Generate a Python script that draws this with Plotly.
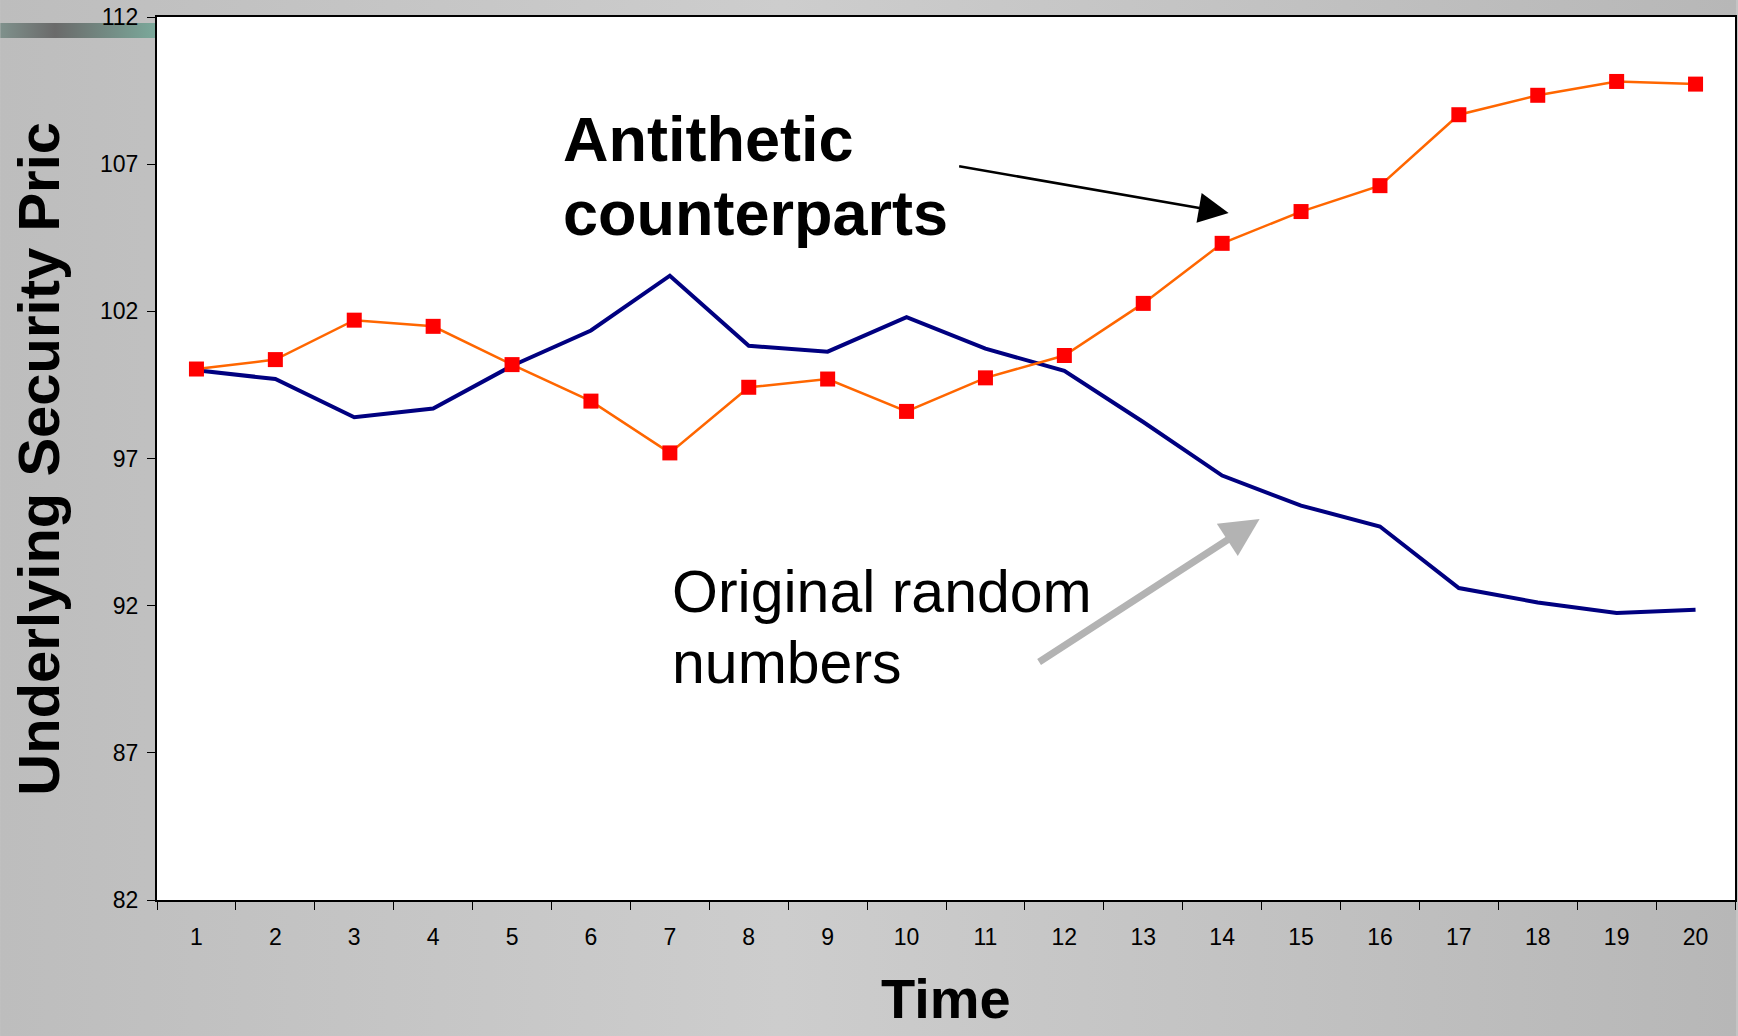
import base64
import plotly.graph_objects as go

# ---- data ----
time_steps = [str(i) for i in range(1, 21)]
original = [100.0, 99.70, 98.40, 98.70, 100.15, 101.35, 103.21, 100.83, 100.63, 101.80,
            100.73, 99.98, 98.24, 96.42, 95.40, 94.69, 92.60, 92.11, 91.75, 91.86]
antithetic = [100.04, 100.36, 101.70, 101.49, 100.19, 98.95, 97.19, 99.42, 99.70, 98.60,
              99.74, 100.50, 102.27, 104.31, 105.39, 106.27, 108.68, 109.34, 109.81, 109.72]
y_ticks = [82, 87, 92, 97, 102, 107, 112]
x_title = "Time"
y_title = "Underlying Security Pric"
label_anti = ["Antithetic", "counterparts"]
label_orig = ["Original random", "numbers"]

# ---- geometry (pixels) ----
FW, FH = 1738, 1036
L, R, T, B = 157, 1737, 17, 900
PW, PH = R - L, B - T


def px(xp):
    return (xp - L) / PW


def py(yp):
    return (B - yp) / PH


FONT = "Arial, 'Liberation Sans', sans-serif"

# background gradient + decorative bar as SVG
svg = f'''<svg xmlns="http://www.w3.org/2000/svg" width="{FW}" height="{FH}" viewBox="0 0 {FW} {FH}" preserveAspectRatio="none">
<defs>
<linearGradient id="bg" x1="0" y1="0" x2="1" y2="0">
<stop offset="0" stop-color="#bdbdbd"/><stop offset="0.45" stop-color="#cdcdcd"/><stop offset="1" stop-color="#b7b7b7"/>
</linearGradient>
<linearGradient id="bar" x1="0" y1="0" x2="1" y2="0">
<stop offset="0" stop-color="#7f918c"/><stop offset="0.35" stop-color="#6a6a6a"/><stop offset="1" stop-color="#7ba99b"/>
</linearGradient>
</defs>
<rect x="0" y="0" width="{FW}" height="{FH}" fill="url(#bg)"/>
<rect x="0" y="23" width="{L}" height="15" fill="url(#bar)"/>
</svg>'''
svg_uri = "data:image/svg+xml;base64," + base64.b64encode(svg.encode()).decode()

fig = go.Figure()
fig.add_trace(go.Scatter(x=time_steps, y=original, mode="lines",
                         line=dict(color="#000080", width=4), name="Original"))
fig.add_trace(go.Scatter(x=time_steps, y=antithetic, mode="lines+markers",
                         line=dict(color="#ff6600", width=2.5),
                         marker=dict(symbol="square", size=15, color="#ff0000"),
                         name="Antithetic"))

annotations = []
# text labels
annotations.append(dict(text=f"<b>{label_anti[0]}</b>", x=px(562), y=py(139), xref="paper", yref="paper",
                        xanchor="left", yanchor="middle", showarrow=False,
                        font=dict(family=FONT, size=63, color="black")))
annotations.append(dict(text=f"<b>{label_anti[1]}</b>", x=px(562), y=py(213), xref="paper", yref="paper",
                        xanchor="left", yanchor="middle", showarrow=False,
                        font=dict(family=FONT, size=63, color="black")))
annotations.append(dict(text=label_orig[0], x=px(671), y=py(592), xref="paper", yref="paper",
                        xanchor="left", yanchor="middle", showarrow=False,
                        font=dict(family=FONT, size=59, color="black")))
annotations.append(dict(text=label_orig[1], x=px(671), y=py(663), xref="paper", yref="paper",
                        xanchor="left", yanchor="middle", showarrow=False,
                        font=dict(family=FONT, size=59, color="black")))
# arrows
annotations.append(dict(text="", x=px(1230), y=py(213), xref="paper", yref="paper",
                        showarrow=True, ax=959 - 1230, ay=166 - 213,
                        arrowcolor="black", arrowwidth=2.5, arrowhead=2, arrowsize=2.4, standoff=0))
annotations.append(dict(text="", x=px(1261), y=py(519), xref="paper", yref="paper",
                        showarrow=True, ax=1039 - 1261, ay=663 - 519,
                        arrowcolor="#b3b3b3", arrowwidth=7, arrowhead=2, arrowsize=1.1, standoff=0))
# axis titles
annotations.append(dict(text=f"<b>{y_title}</b>", x=-(L - 38) / PW, y=0.5, xref="paper", yref="paper",
                        textangle=-90, xanchor="center", yanchor="middle", showarrow=False,
                        font=dict(family=FONT, size=58, color="black")))
annotations.append(dict(text=f"<b>{x_title}</b>", x=0.5, y=py(998), xref="paper", yref="paper",
                        xanchor="center", yanchor="middle", showarrow=False,
                        font=dict(family=FONT, size=56, color="black")))

fig.update_layout(
    width=FW, height=FH,
    margin=dict(l=L, r=FW - R, t=T, b=FH - B),
    paper_bgcolor="#c4c4c4",
    plot_bgcolor="white",
    showlegend=False,
    annotations=annotations,
    images=[dict(source=svg_uri, xref="paper", yref="paper",
                 x=-L / PW, y=1 + T / PH, sizex=FW / PW, sizey=FH / PH,
                 sizing="stretch", xanchor="left", yanchor="top", layer="below")],
    shapes=[dict(type="rect", xref="paper", yref="paper", x0=0, x1=1, y0=0, y1=1,
                 fillcolor="white", line=dict(width=0), layer="below")],
    xaxis=dict(type="category", tickson="boundaries", ticks="outside", ticklen=8,
               tickcolor="black", tickwidth=1, showline=True, linecolor="black", linewidth=2,
               mirror=True, showgrid=False, zeroline=False, ticklabelstandoff=15,
               tickfont=dict(family=FONT, size=23, color="black"), range=[-0.5, 19.5]),
    yaxis=dict(range=[82, 112], tickvals=y_ticks, ticks="outside", ticklen=8,
               tickcolor="black", tickwidth=1, showline=True, linecolor="black", linewidth=2,
               mirror=True, showgrid=False, zeroline=False, ticklabelstandoff=4,
               tickfont=dict(family=FONT, size=23, color="black")),
)

fig.write_html("out.html")
